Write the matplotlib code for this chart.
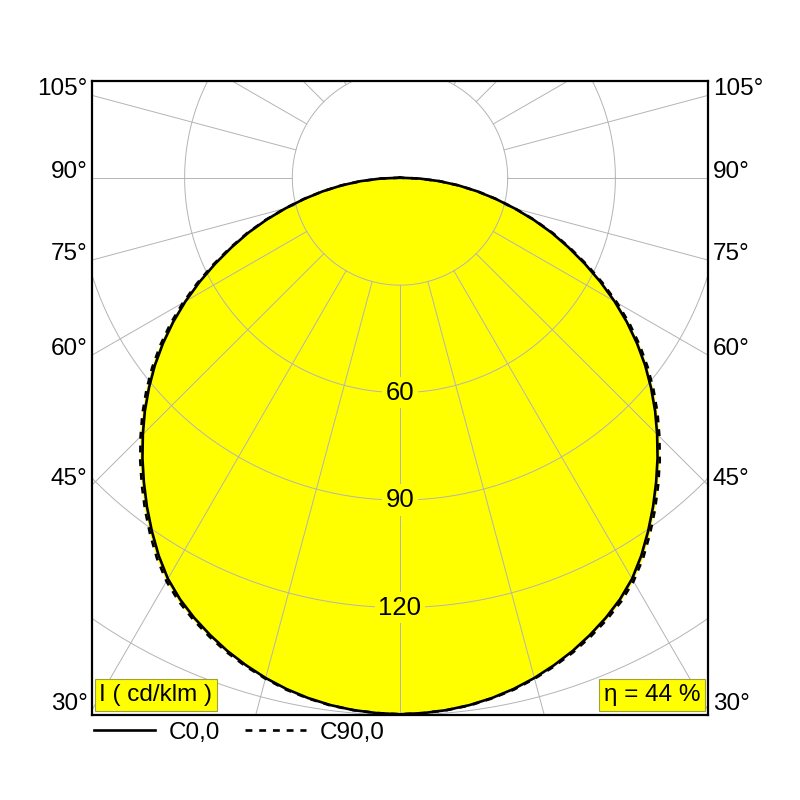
import numpy as np
import matplotlib
matplotlib.use("Agg")
import matplotlib.pyplot as plt
from matplotlib.transforms import blended_transform_factory

plt.rcParams['font.family'] = ['Liberation Sans', 'DejaVu Sans']

# luminous intensity (cd/klm) every 2.5 degrees from nadir
gamma = [0, 2.5, 5, 7.5, 10, 12.5, 15, 17.5, 20, 22.5, 25, 27.5, 30, 32.5,
         35, 37.5, 40, 42.5, 45, 47.5, 50, 52.5, 55, 57.5, 60, 62.5, 65,
         67.5, 70, 72.5, 75, 77.5, 80, 82.5, 85, 87.5, 90]
c0 = [149.8, 149.6, 149.2, 148.5, 147.5, 146.2, 144.6, 142.7, 140.6, 138.2,
      135.6, 132.7, 129.3, 125.1, 120.5, 115.8, 111.0, 106.2, 101.3, 96.4,
      91.3, 86.1, 80.6, 74.9, 69.0, 62.9, 56.8, 50.8, 45.0, 39.0, 33.0,
      27.3, 21.8, 16.4, 11.0, 5.5, 0.0]
c90 = [149.8, 149.6, 149.2, 148.6, 147.6, 146.4, 144.8, 143.0, 141.0, 138.7,
       136.2, 133.4, 130.1, 126.0, 121.4, 116.7, 111.9, 107.1, 102.2, 97.3,
       92.2, 87.0, 81.5, 75.8, 69.8, 63.6, 57.4, 51.3, 45.4, 39.3, 33.2,
       27.4, 21.9, 16.4, 11.0, 5.5, 0.0]

rings = [30, 60, 90, 120, 150]
ring_labels = [60, 90, 120]
side_angles = [105, 90, 75, 60, 45, 30]
eta = 44

yellow = '#ffff00'
grid_col = '#b4b4b4'

x_edge = 85.8
y_top = 27.0
y_bot = -150.0


def to_xy(angles, values):
    # both halves of the plane, left side mirrored
    a = np.radians(np.concatenate([-np.array(angles[::-1]), np.array(angles[1:])]))
    v = np.concatenate([np.array(values[::-1]), np.array(values[1:])])
    return v * np.sin(a), -v * np.cos(a)


fig = plt.figure(figsize=(8, 8), dpi=100)
ax = fig.add_axes([92/800, 85/800, 616/800, 634/800])
ax.set_xlim(-x_edge, x_edge)
ax.set_ylim(y_bot, y_top)
ax.set_xticks([])
ax.set_yticks([])
for s in ax.spines.values():
    s.set_linewidth(1.6)

x0, y0 = to_xy(gamma, c0)
x9, y9 = to_xy(gamma, c90)
ax.fill(x9, y9, color=yellow, lw=0, zorder=1)
ax.fill(x0, y0, color=yellow, lw=0, zorder=1)

# polar grid
t = np.linspace(0, 2*np.pi, 400)
for r in rings:
    ax.plot(r*np.cos(t), r*np.sin(t), color=grid_col, lw=0.7, zorder=2)
for a in np.arange(0, 360, 15):
    ar = np.radians(a)
    ax.plot([30*np.sin(ar), 260*np.sin(ar)], [-30*np.cos(ar), -260*np.cos(ar)],
            color=grid_col, lw=0.7, zorder=2)

ax.plot(x0, y0, color='black', lw=1.9, zorder=3, solid_joinstyle='round')
ax.plot(x9, y9, color='black', lw=1.9, zorder=3, dashes=(2.6, 2.6))

for r in ring_labels:
    ax.text(0, -r, str(r), ha='center', va='center', fontsize=18.5, zorder=4,
            bbox=dict(boxstyle='square,pad=0.15', fc=yellow, ec='none'))

# angle labels on both sides of the frame
tr = blended_transform_factory(ax.transAxes, ax.transData)
for a in side_angles:
    ar = np.radians(a)
    y = -x_edge*np.cos(ar)/np.sin(ar)
    ax.text(-0.007, y, f'{a}°', transform=tr, ha='right', va='baseline',
            fontsize=17.5, clip_on=False)
    ax.text(1.008, y, f'{a}°', transform=tr, ha='left', va='baseline',
            fontsize=17.5, clip_on=False)

ax.text(0.012, 0.014, 'I ( cd/klm )', transform=ax.transAxes, ha='left',
        va='bottom', fontsize=17.5, zorder=5,
        bbox=dict(boxstyle='square,pad=0.2', fc=yellow, ec='#a0a040', lw=0.8))
ax.text(0.988, 0.014, f'η = {eta} %', transform=ax.transAxes, ha='right',
        va='bottom', fontsize=17.5, zorder=5,
        bbox=dict(boxstyle='square,pad=0.2', fc=yellow, ec='#a0a040', lw=0.8))

h0, = ax.plot([], [], color='black', lw=1.9)
h9, = ax.plot([], [], color='black', lw=1.9, dashes=(2.6, 2.6))
ax.legend([h0, h9], ['C0,0', 'C90,0'], loc='upper left',
          bbox_to_anchor=(-0.005, -0.003), ncol=2, frameon=False,
          fontsize=17.5, handlelength=2.5, handletextpad=0.6,
          columnspacing=1.0, borderaxespad=0, borderpad=0.2)

fig.savefig('out.png', dpi=100, facecolor='white')
